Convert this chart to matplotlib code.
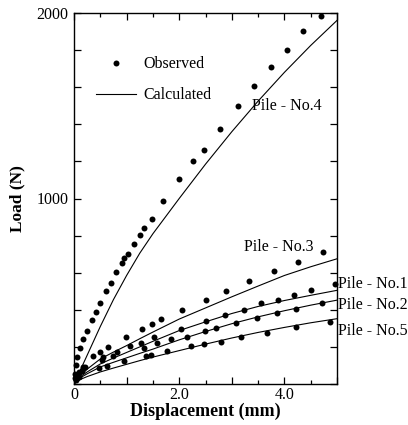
import matplotlib
matplotlib.use('Agg')
import matplotlib.pyplot as plt
import numpy as np
from matplotlib.ticker import MultipleLocator

plt.rcParams.update({'font.family'      : ['Liberation Serif', 'DejaVu Serif'],
                     'font.size'        : 11.5,
                     'xtick.direction'  : 'in',
                     'ytick.direction'  : 'in',
                     'xtick.top'        : True,
                     'ytick.right'      : True,
                     'axes.linewidth'   : 1.0,
                     'xtick.major.width': 0.9,
                     'ytick.major.width': 0.9,
                     'xtick.minor.width': 0.9,
                     'ytick.minor.width': 0.9,
                    })

# observed points (displacement mm, load N)
obs4_x = [0.02, 0.03, 0.06, 0.11, 0.17, 0.25, 0.34, 0.42, 0.49, 0.60, 0.70, 0.79, 0.91, 0.96,
          1.02, 1.15, 1.26, 1.34, 1.49, 1.70, 2.00, 2.26, 2.47, 2.77, 3.11, 3.42, 3.75, 4.04,
          4.36, 4.70]
obs4_y = [55, 100, 146, 195, 244, 287, 347, 390, 434, 499, 547, 602, 650, 678,
          699, 753, 802, 840, 889, 986, 1106, 1203, 1263, 1377, 1501, 1604, 1707, 1799,
          1902, 1985]

obs3_x = [0.02, 0.09, 0.21, 0.36, 0.49, 0.64, 0.98, 1.30, 1.49, 1.66, 2.06, 2.51, 2.89,
          3.32, 3.81, 4.25, 4.74]
obs3_y = [30, 65, 92, 152, 173, 200, 255, 298, 325, 352, 401, 455, 499,
          553, 607, 656, 710]

obs1_x = [0.03, 0.17, 0.55, 0.81, 1.06, 1.28, 1.53, 2.04, 2.51, 2.87, 3.23, 3.55, 3.87,
          4.19, 4.51, 4.96]
obs1_y = [45, 92, 146, 173, 206, 222, 255, 298, 341, 374, 401, 434, 455,
          482, 509, 537]

obs2_x = [0.05, 0.15, 0.53, 0.74, 1.34, 1.57, 1.85, 2.15, 2.49, 2.70, 3.08, 3.47, 3.85,
          4.23, 4.72]
obs2_y = [35, 70, 130, 152, 195, 222, 244, 255, 287, 304, 331, 358, 385,
          407, 439]

obs5_x = [0.04, 0.10, 0.47, 0.62, 0.96, 1.36, 1.47, 1.77, 2.23, 2.47, 2.79, 3.17, 3.66,
          4.23, 4.87]
obs5_y = [20, 40, 87, 98, 125, 152, 157, 179, 206, 217, 228, 255, 276,
          309, 336]

# calculated curves
calc_x = [0.0, 0.1, 0.25, 0.5, 0.75, 1.0, 1.25, 1.5, 2.0, 2.5, 3.0, 3.5, 4.0, 4.5, 5.0]
calc4_y = [0, 62, 155, 310, 455, 585, 705, 810, 1000, 1185, 1360, 1525, 1680, 1825, 1960]
calc3_y = [0, 40, 80, 135, 172, 207, 244, 280, 350, 410, 470, 528, 585, 632, 675]
calc1_y = [0, 35, 65, 108, 140, 170, 200, 230, 288, 335, 380, 418, 450, 478, 505]
calc2_y = [0, 30, 55, 92, 117, 141, 165, 188, 238, 283, 325, 362, 395, 425, 452]
calc5_y = [0, 22, 40, 65, 86, 106, 126, 145, 180, 215, 248, 278, 305, 330, 352]

pile_names = ['Pile - No.4', 'Pile - No.3', 'Pile - No.1', 'Pile - No.2', 'Pile - No.5']

x_ticks = [0, 1, 2, 3, 4, 5]
x_ticklabels = ['0', '', '2.0', '', '4.0', '']
y_ticks = [0, 200, 400, 600, 800, 1000, 1200, 1400, 1600, 1800, 2000]
y_ticklabels = ['', '', '', '', '', '1000', '', '', '', '', '2000']

fig = plt.figure(figsize=(4.08, 4.25), dpi=100)
ax = fig.add_axes([74/408, 1-384/425, 263/408, 371/425])

for ox, oy in [(obs4_x, obs4_y), (obs3_x, obs3_y), (obs1_x, obs1_y),
               (obs2_x, obs2_y), (obs5_x, obs5_y)]:
    ax.plot(ox, oy, 'o', color='k', ms=4.3, mew=0, clip_on=False)
for cy in [calc4_y, calc3_y, calc1_y, calc2_y, calc5_y]:
    ax.plot(calc_x, cy, '-', color='k', lw=0.8)

# labels for each pile
ax.text(3.38, 1501, pile_names[0], va='center', ha='left')
ax.text(3.23, 737, pile_names[1], va='center', ha='left')
ax.text(5.02, 537, pile_names[2], va='center', ha='left', clip_on=False)
ax.text(5.02, 428, pile_names[3], va='center', ha='left', clip_on=False)
ax.text(5.02, 287, pile_names[4], va='center', ha='left', clip_on=False)

ax.set_xlim(0, 5.0)
ax.set_ylim(0, 2000)
ax.set_xticks(x_ticks, x_ticklabels)
ax.xaxis.set_minor_locator(MultipleLocator(0.5))
ax.set_yticks(y_ticks, y_ticklabels)
ax.tick_params(which='major', length=5, labelsize=11.5)
ax.tick_params(which='minor', length=3)
ax.tick_params(axis='x', pad=2)
ax.tick_params(axis='y', pad=4)

ax.set_xlabel('Displacement (mm)', fontsize=13, fontweight='bold', labelpad=0)
ax.set_ylabel('Load (N)', fontsize=12.5, fontweight='bold', labelpad=8)

h1, = ax.plot([], [], 'o', color='k', ms=4.3, mew=0)
h2, = ax.plot([], [], '-', color='k', lw=0.8)
ax.legend([h1, h2], ['Observed', 'Calculated'], loc='upper left',
          bbox_to_anchor=(0.055, 0.905), frameon=False, handlelength=2.5,
          handletextpad=0.45, labelspacing=0.95, borderpad=0, fontsize=11.5)

fig.savefig('out.png', dpi=100)
